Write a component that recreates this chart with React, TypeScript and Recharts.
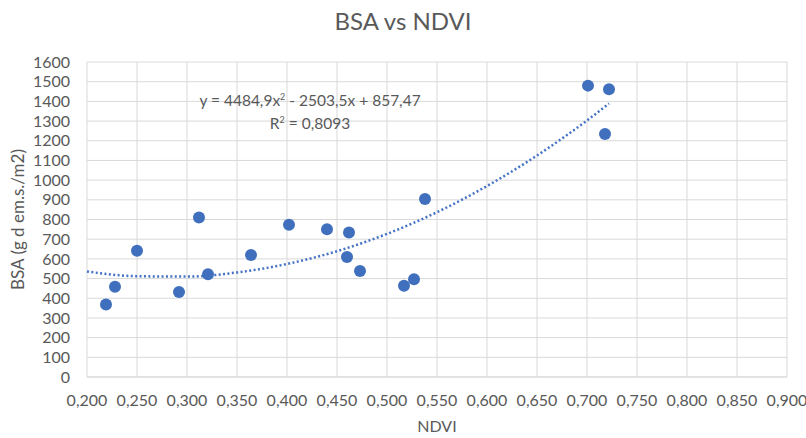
import { ScatterChart, Scatter, XAxis, YAxis, CartesianGrid, Label } from "recharts";

const ndvi = [0.219, 0.228, 0.25, 0.292, 0.312, 0.321, 0.364, 0.402, 0.44, 0.46, 0.462, 0.473, 0.517, 0.527, 0.538, 0.701, 0.718, 0.722];
const bsa = [368, 459, 641, 432, 810, 522, 620, 773, 751, 610, 734, 539, 464, 497, 904, 1480, 1234, 1461];

// polynomial trendline, values
const trendX = [0.2, 0.25, 0.3, 0.35, 0.4, 0.45, 0.5, 0.55, 0.6, 0.65, 0.7, 0.722];
const trendY = [536, 512, 510, 531, 574, 639, 727, 837, 970, 1125, 1303, 1389];

const xTicks = [0.2, 0.25, 0.3, 0.35, 0.4, 0.45, 0.5, 0.55, 0.6, 0.65, 0.7, 0.75, 0.8, 0.85, 0.9];
const yTicks = [0, 100, 200, 300, 400, 500, 600, 700, 800, 900, 1000, 1100, 1200, 1300, 1400, 1500, 1600];

const points = ndvi.map((x, i) => ({ x, y: bsa[i] }));
const trend = trendX.map((x, i) => ({ x, y: trendY[i] }));

const font = "Lato, 'Open Sans', sans-serif";
const grey = "#595959";
const blue = "#4472c4";

export default function App() {
  return (
    <div style={{ position: "absolute", left: 0, top: 0, width: 806, height: 438, background: "#fff", fontFamily: font }}>
      <div style={{ position: "absolute", left: 0, top: 6, width: 806, textAlign: "center", fontSize: 24, color: grey }}>
        BSA vs NDVI
      </div>
      <div style={{ position: "absolute", left: 158, top: 87, width: 304, textAlign: "center", fontSize: 15.5, color: grey, lineHeight: "19px", zIndex: 2 }}>
        y = 4484,9x<sup style={{ fontSize: 9 }}>2</sup> - 2503,5x + 857,47
        <br />
        R<sup style={{ fontSize: 9 }}>2</sup> = 0,8093
      </div>
      <ScatterChart width={806} height={438} margin={{ top: 62, right: 19, left: 0, bottom: 0 }}>
        <CartesianGrid stroke="#d9d9d9" strokeWidth={1} />
        <XAxis
          type="number"
          dataKey="x"
          domain={[0.2, 0.9]}
          ticks={xTicks}
          tickFormatter={(v: number) => v.toFixed(3).replace(".", ",")}
          height={61}
          axisLine={{ stroke: "#d9d9d9" }}
          tickLine={false}
          tickMargin={12}
          tick={{ fill: grey, fontSize: 16, fontFamily: font }}
          interval={0}
        >
          <Label value="NDVI" position="insideBottom" offset={6} fill={grey} fontSize={16} fontFamily={font} />
        </XAxis>
        <YAxis
          type="number"
          dataKey="y"
          domain={[0, 1600]}
          ticks={yTicks}
          width={87}
          axisLine={false}
          tickLine={false}
          tickMargin={11}
          tick={{ fill: grey, fontSize: 16, fontFamily: font }}
          interval={0}
        >
          <Label value="BSA (g d em.s./m2)" angle={-90} position="insideLeft" offset={18} fill={grey} fontSize={17} fontFamily={font} style={{ textAnchor: "middle" }} />
        </YAxis>
        <Scatter
          data={trend}
          line={{ stroke: blue, strokeWidth: 2.5, strokeDasharray: "2 2.4" }}
          lineJointType="monotoneX"
          shape={() => <g />}
          isAnimationActive={false}
        />
        <Scatter data={points} fill={blue} shape={(p: any) => <circle cx={p.cx} cy={p.cy} r={6} fill="#4070bd" />} isAnimationActive={false} />
      </ScatterChart>
    </div>
  );
}
